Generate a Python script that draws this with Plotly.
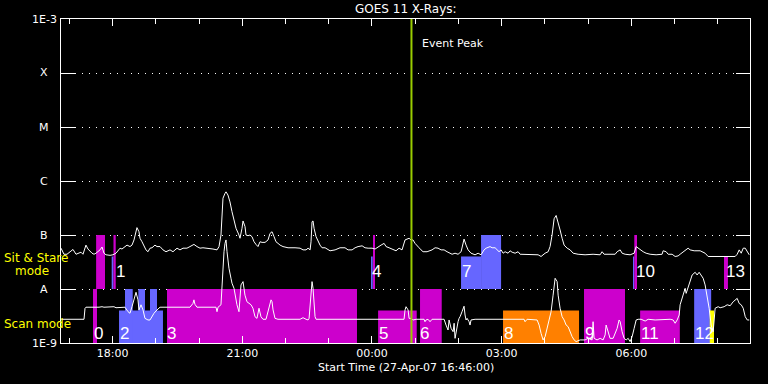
import pandas as pd
import plotly.graph_objects as go

START = pd.Timestamp("2007-04-27 16:46:00")

# ---- GOES long channel (1-8 A), minutes after start, flux in 1e-8 W/m^2 ----
t_long = [2.4, 3.7, 6.5, 10.7, 14.9, 19.0, 23.2, 27.3, 30.1, 32.9, 35.7, 37.0, 39.8, 42.6, 45.4, 48.2, 50.9,
          56.5, 59.3, 62.0, 64.8, 70.4, 74.5, 78.7, 81.5, 84.3, 87.0, 91.2, 94.0, 98.1, 100.9, 103.7, 106.5,
          107.8, 110.6, 112.0, 114.8, 117.6, 120.3, 123.1, 125.9, 128.7, 132.8, 135.6, 139.8, 143.9, 148.1,
          153.7, 157.8, 163.4, 167.5, 171.7, 177.2, 181.4, 186.9, 191.1, 195.3, 199.4, 205.0, 209.2, 213.3,
          218.9, 221.7, 224.4, 225.8, 227.2, 230.0, 231.4, 234.1, 236.9, 239.7, 242.5, 245.3, 249.4, 250.8,
          253.6, 255.0, 257.8, 259.1, 261.9, 264.7, 267.5, 270.3, 273.0, 275.8, 278.6, 281.4, 285.6, 289.7,
          292.5, 295.3, 298.1, 300.8, 303.6, 306.4, 310.5, 317.5, 327.2, 334.2, 338.3, 342.5, 345.3, 348.1,
          349.4, 350.8, 352.2, 353.6, 356.4, 359.2, 361.9, 364.7, 368.9, 375.8, 382.8, 389.7, 396.6, 400.8,
          406.4, 410.5, 414.7, 420.3, 424.4, 428.6, 434.1, 438.3, 442.5, 446.6, 450.8, 453.6, 457.7, 463.3,
          467.4, 471.6, 475.7, 479.9, 482.7, 485.5, 488.2, 491.0, 493.8, 496.6, 499.4, 502.1, 504.9, 510.5,
          517.4, 521.6, 525.7, 529.9, 534.1, 538.2, 542.4, 545.2, 549.3, 553.5, 557.7, 559.0, 561.8, 564.6,
          567.4, 571.5, 577.1, 581.3, 585.4, 589.6, 592.4, 597.9, 600.7, 604.9, 607.6, 610.4, 613.2, 616.0,
          618.8, 622.9, 625.7, 628.5, 632.7, 636.8, 639.6, 653.5, 664.6, 668.7, 671.5, 674.3, 678.5, 681.2,
          684.0, 686.8, 689.6, 692.4, 695.1, 697.9, 700.7, 704.9, 709.0, 713.2, 720.1, 729.8, 740.9, 750.7,
          753.4, 756.2, 771.5, 774.3, 778.5, 781.2, 785.4, 792.3, 797.9, 800.7, 803.4, 806.2, 810.4, 814.5,
          820.1, 828.4, 836.7, 838.1, 842.3, 845.1, 850.6, 854.8, 858.9, 861.7, 865.9, 868.7, 872.8, 875.6,
          881.2, 889.5, 896.4, 900.6, 938.1, 940.9, 943.7, 946.5, 949.3, 952.1, 954.9, 957.6]
flux_long_e8 = [5.7, 5.3, 4.4, 4.4, 4.9, 5.4, 4.4, 4.6, 4.8, 4.4, 5.7, 6.5, 5.5, 4.9, 4.6, 4.4, 4.6,
                5.3, 6.0, 4.6, 4.3, 4.2, 4.3, 4.6, 5.1, 5.7, 5.5, 6.1, 6.5, 6.1, 6.5, 8.1, 12.4,
                13.7, 11.5, 8.7, 7.5, 6.1, 5.3, 4.9, 5.7, 5.8, 6.5, 6.1, 6.1, 5.3, 4.9,
                5.3, 4.9, 5.7, 5.3, 5.7, 5.7, 6.1, 6.7, 6.1, 5.7, 5.8, 5.7, 5.7, 5.5,
                5.3, 6.1, 10.0, 23.5, 48.0, 59.0, 63.0, 55.0, 41.0, 27.0, 20.0, 13.3, 10.0, 8.7,
                13.3, 18.2, 14.3, 10.0, 9.7, 10.0, 9.3, 7.5, 6.7, 6.1, 7.5, 7.3, 7.3, 8.1,
                10.7, 11.5, 9.3, 7.5, 7.0, 6.5, 6.1, 5.8, 5.8, 5.7, 5.3, 5.3, 5.7, 5.3,
                7.5, 17.6, 18.2, 13.3, 9.3, 7.5, 6.5, 5.8, 5.8, 5.1, 5.3, 5.8, 5.8, 5.3,
                5.3, 5.8, 6.1, 6.3, 5.8, 5.7, 5.7, 5.5, 6.1, 6.5, 7.0, 6.1, 5.8, 5.3,
                5.1, 5.7, 5.3, 8.1, 8.4, 8.7, 8.1, 8.1, 7.0, 6.5, 5.8, 5.3, 4.9, 4.9,
                5.3, 5.8, 5.7, 5.3, 5.3, 4.9, 4.6, 4.4, 4.6, 4.4, 4.9, 6.1, 8.4, 6.5,
                5.3, 4.6, 4.3, 4.6, 4.3, 5.3, 5.7, 6.1, 5.8, 5.8, 5.3, 4.9, 5.3, 4.6,
                4.9, 4.6, 5.1, 4.8, 4.6, 4.9, 4.4, 4.4, 4.3, 4.0, 4.3, 4.6, 4.9, 6.1,
                10.0, 20.0, 23.0, 17.6, 12.4, 8.7, 6.5, 5.7, 5.3, 4.6, 4.4, 4.3, 4.4, 4.3,
                4.9, 4.4, 4.4, 4.9, 5.3, 4.6, 4.4, 4.3, 4.6, 6.1, 5.7, 5.3, 4.9, 4.6,
                4.4, 4.3, 4.4, 5.1, 4.9, 4.4, 4.4, 4.0, 4.1, 4.4, 4.9, 5.3, 5.7, 5.3,
                5.1, 5.1, 4.6, 4.0, 4.0, 4.4, 5.3, 4.6, 5.7, 5.7, 4.9, 4.3]

# ---- GOES short channel (0.5-4 A), minutes after start, flux in 1e-9 W/m^2 ----
t_short = [2.4, 34.3, 35.7, 37.0, 55.1, 59.3, 62.0, 67.6, 75.9, 78.7, 91.2, 95.4, 98.1, 100.9, 103.7, 106.5,
           109.2, 110.6, 113.4, 116.2, 118.9, 123.1, 125.9, 128.7, 131.4, 135.6, 139.8, 181.4, 185.5, 186.9,
           188.3, 191.1, 217.5, 218.9, 220.3, 224.4, 225.8, 228.6, 230.0, 231.4, 232.8, 235.5, 238.3, 239.7,
           242.5, 243.9, 246.6, 249.4, 250.8, 252.2, 255.0, 256.3, 257.7, 260.5, 263.3, 266.1, 268.8, 271.6,
           274.4, 275.8, 277.2, 279.9, 282.7, 286.9, 289.7, 292.5, 293.9, 295.3, 296.7, 299.4, 303.6, 334.2,
           338.3, 342.5, 345.3, 346.7, 348.1, 349.4, 350.8, 352.2, 353.6, 355.0, 356.4, 478.5, 479.9, 481.3,
           484.1, 485.5, 488.2, 491.0, 495.2, 506.3, 507.6, 509.0, 511.8, 514.6, 517.4, 534.1, 536.8, 539.6,
           541.0, 543.8, 546.6, 548.0, 549.3, 550.7, 553.5, 554.9, 556.3, 559.0, 561.8, 563.2, 564.6, 566.0,
           568.8, 570.1, 571.5, 577.1, 645.1, 646.5, 649.3, 663.2, 666.0, 668.7, 671.5, 674.3, 677.1, 679.9,
           682.6, 685.4, 688.2, 691.0, 692.4, 695.1, 697.9, 700.7, 703.5, 706.3, 709.0, 711.8, 714.6, 717.4,
           722.9, 729.8, 733.9, 739.5, 740.9, 742.3, 746.4, 750.7, 754.8, 757.6, 759.0, 761.8, 764.5, 768.7,
           774.3, 777.0, 778.5, 781.2, 784.0, 786.8, 789.6, 792.3, 795.1, 797.9, 800.7, 803.4, 807.6, 813.2,
           817.3, 827.0, 847.9, 852.0, 854.8, 857.6, 860.4, 861.7, 864.5, 865.9, 868.7, 870.1, 872.8, 875.6,
           878.4, 882.6, 885.3, 888.1, 890.9, 893.7, 896.4, 899.2, 902.0, 904.8, 907.6, 910.3, 914.5, 917.3,
           922.8, 927.0, 931.2, 935.3, 938.1, 940.9, 943.7, 946.5, 949.3, 952.1, 954.9, 957.6]
flux_short_e9 = [2.75, 2.75, 4.4, 4.6, 4.6, 4.7, 4.6, 4.7, 4.7, 4.5, 4.6, 3.8, 3.55, 4.7, 6.7, 8.7,
                 6.3, 4.1, 5.1, 4.1, 2.86, 2.67, 2.67, 3.07, 3.55, 4.1, 4.6, 4.6, 5.4, 6.3,
                 5.2, 4.6, 4.6, 3.8, 4.6, 5.1, 11.9, 49.0, 70.0, 81.0, 49.0, 24.2, 15.8, 12.8,
                 10.3, 7.7, 5.1, 3.8, 6.7, 11.9, 13.7, 8.9, 7.7, 5.8, 5.4, 5.1, 4.4, 3.07,
                 2.86, 3.55, 4.4, 3.07, 2.75, 2.75, 3.8, 5.4, 6.3, 5.8, 4.1, 2.86, 2.75, 2.75,
                 2.94, 2.75, 2.67, 2.86, 5.1, 8.9, 13.7, 10.3, 5.1, 3.07, 2.75, 2.75, 4.1, 4.7,
                 4.1, 2.86, 2.86, 2.67, 2.75, 2.75, 2.48, 2.67, 2.75, 2.48, 2.75, 2.75, 2.15, 1.74,
                 2.67, 1.87, 1.62, 2.32, 1.22, 1.62, 2.48, 2.86, 3.07, 3.8, 4.8, 3.3, 2.67, 2.86,
                 2.48, 2.15, 2.67, 2.75, 2.75, 2.48, 2.75, 2.67, 2.15, 1.51, 1.14, 1.31, 1.87, 2.67,
                 3.8, 7.7, 15.8, 13.7, 7.7, 4.4, 3.07, 2.67, 2.15, 2.0, 1.62, 1.31, 1.14, 1.06,
                 1.14, 1.14, 1.22, 1.14, 2.48, 1.22, 1.14, 1.22, 1.14, 1.41, 2.15, 1.62, 1.22, 1.22,
                 1.87, 2.67, 2.48, 1.62, 1.22, 1.14, 1.22, 1.06, 1.31, 1.87, 2.67, 2.75, 2.75, 2.55,
                 2.75, 2.67, 2.75, 2.67, 2.32, 2.67, 3.3, 5.1, 6.7, 7.7, 10.3, 8.3, 11.0, 14.7,
                 18.2, 20.4, 18.2, 20.4, 18.2, 15.8, 11.9, 7.7, 4.4, 2.15, 1.62, 4.4, 4.7, 4.5,
                 4.7, 5.1, 4.9, 5.8, 6.3, 6.7, 5.4, 5.1, 4.4, 3.07, 2.67, 2.67]

# ---- observation blocks (minutes after start) ----
blk_start = [51.1, 72.7, 75.2, 432.6, 435.4, 557.6, 585.4, 796.3, 798.1, 922.6,
             46.8, 82.9, 91.2, 109.7, 125.9, 149.5, 442.5, 500.7, 615.9, 728.3, 806.2, 881.2, 902.8]
blk_end = [63.4, 75.2, 78.3, 435.0, 438.2, 585.4, 613.2, 798.1, 801.9, 928.1,
           52.3, 143.9, 101.9, 119.0, 135.6, 413.2, 496.1, 530.8, 721.4, 785.2, 861.3, 904.8, 908.7]
blk_mode = ["sit"] * 10 + ["scan"] * 13
blk_size = ["full", "part", "full", "part", "full", "part", "full", "part", "full", "part",
            "full", "part", "full", "full", "full", "full", "part", "full", "part", "full", "part", "full", "part"]
blk_color = ["#CC00CC", "#6666FF", "#CC00CC", "#6666FF", "#CC00CC", "#6666FF", "#6666FF", "#6666FF", "#CC00CC",
             "#CC00CC",
             "#CC00CC", "#6666FF", "#6666FF", "#6666FF", "#6666FF", "#CC00CC", "#CC00CC", "#CC00CC", "#FF8000",
             "#CC00CC", "#CC00CC", "#6666FF", "#FFFF00"]

# band floor / ceiling / partial height (W/m^2)
band_base = {"sit": 1e-8, "scan": 1e-9}
band_top = {"sit": 1e-7, "scan": 1e-8}
band_part = {"sit": 4e-8, "scan": 4e-9}

# ---- block number labels ----
lbl_text = ["0", "1", "2", "3", "4", "5", "6", "7", "8", "9", "10", "11", "12", "13"]
lbl_time = [48.3, 78.0, 84.3, 149.5, 434.7, 443.7, 501.3, 558.9, 617.2, 729.8, 800.4, 807.4, 882.6, 924.7]
lbl_mode = ["scan", "sit", "scan", "scan", "sit", "scan", "scan", "sit", "scan", "scan", "sit", "scan", "scan", "sit"]

event_peak_min = 488.8
x_range_min = [2.36, 958.7]

y_labels = ["1E-9", "A", "B", "C", "M", "X", "1E-3"]
y_vals = [1e-9, 1e-8, 1e-7, 1e-6, 1e-5, 1e-4, 1e-3]


def tt(m):
    return START + pd.to_timedelta(m, unit="min")


FONT = "DejaVu Sans, Liberation Sans, sans-serif"
fig = go.Figure()

for s, e, md, sz, c in zip(blk_start, blk_end, blk_mode, blk_size, blk_color):
    b = band_base[md]
    top = band_top[md] if sz == "full" else band_part[md]
    fig.add_trace(go.Scatter(x=[tt(s), tt(e), tt(e), tt(s), tt(s)], y=[b, b, top, top, b],
                             mode="lines", fill="toself", fillcolor=c, line=dict(width=0, color=c),
                             hoverinfo="skip"))

fig.add_trace(go.Scatter(x=[tt(v) for v in t_long], y=[v * 1e-8 for v in flux_long_e8], mode="lines",
                         line=dict(color="white", width=1), hoverinfo="skip"))
fig.add_trace(go.Scatter(x=[tt(v) for v in t_short], y=[v * 1e-9 for v in flux_short_e9], mode="lines",
                         line=dict(color="white", width=1), hoverinfo="skip"))

ann = []
for i, lab in enumerate(y_labels):
    ann.append(dict(x=(44 - 61) / 689, xref="paper", y=i / 6, yref="paper", text=lab, showarrow=False,
                    xanchor="center", yanchor="middle", font=dict(family=FONT, size=11, color="white")))

band_lbl_y = {"sit": (343 - 271.5) / 324, "scan": (343 - 333) / 324}
for txt, tm, md in zip(lbl_text, lbl_time, lbl_mode):
    ann.append(dict(x=tt(tm), xref="x", y=band_lbl_y[md], yref="paper", text=txt, showarrow=False,
                    xanchor="left", yanchor="middle", xshift=-2,
                    font=dict(family="Liberation Sans Narrow, Liberation Sans, sans-serif", size=17,
                              color="white")))

ann += [
    dict(x=0.5, xref="paper", y=(343 - 9) / 324, yref="paper", text="GOES 11 X-Rays:", showarrow=False,
         xanchor="center", yanchor="middle", font=dict(family=FONT, size=12, color="white")),
    dict(x=0.5, xref="paper", y=(343 - 368) / 324, yref="paper", text="Start Time (27-Apr-07 16:46:00)",
         showarrow=False, xanchor="center", yanchor="middle", font=dict(family=FONT, size=11, color="white")),
    dict(x=tt(event_peak_min), xref="x", y=(343 - 43) / 324, yref="paper", text="Event Peak", showarrow=False,
         xanchor="left", yanchor="middle", xshift=9, font=dict(family=FONT, size=11, color="white")),
    dict(x=(2 - 61) / 689, xref="paper", y=(343 - 258) / 324, yref="paper", text="Sit & Stare",
         showarrow=False, xanchor="left", yanchor="middle", font=dict(family=FONT, size=12, color="#FFFF00")),
    dict(x=(13 - 61) / 689, xref="paper", y=(343 - 271) / 324, yref="paper", text="mode",
         showarrow=False, xanchor="left", yanchor="middle", font=dict(family=FONT, size=12, color="#FFFF00")),
    dict(x=(2 - 61) / 689, xref="paper", y=(343 - 323.5) / 324, yref="paper", text="Scan mode",
         showarrow=False, xanchor="left", yanchor="middle", font=dict(family=FONT, size=12, color="#FFFF00")),
]

fig.update_layout(
    width=768, height=384,
    margin=dict(l=61, r=18, t=19, b=41, pad=0),
    paper_bgcolor="black", plot_bgcolor="black",
    showlegend=False,
    annotations=ann,
    shapes=[dict(type="line", xref="x", yref="paper", x0=tt(event_peak_min), x1=tt(event_peak_min),
                 y0=0, y1=1, line=dict(color="#99CC00", width=2), layer="above")],
    xaxis=dict(type="date", range=[tt(x_range_min[0]), tt(x_range_min[1])],
               showline=True, linecolor="white", linewidth=1, mirror="ticks",
               ticks="inside", ticklen=7, tickcolor="white", tickwidth=1,
               tick0="2007-04-27 18:00:00", dtick=3 * 3600 * 1000, tickformat="%H:%M",
               tickfont=dict(family=FONT, size=11, color="white"),
               minor=dict(ticks="inside", ticklen=5, tickcolor="white", dtick=3600 * 1000,
                          tick0="2007-04-27 18:00:00", showgrid=False),
               showgrid=False, zeroline=False),
    yaxis=dict(type="log", range=[-9, -3],
               showline=True, linecolor="white", linewidth=1, mirror="ticks",
               ticks="inside", ticklen=14, tickcolor="white", tickwidth=1,
               tickmode="array", tickvals=y_vals, showticklabels=False,
               showgrid=True, gridcolor="white", gridwidth=1, griddash="1px,6px",
               zeroline=False),
)

fig.write_html("out.html")
